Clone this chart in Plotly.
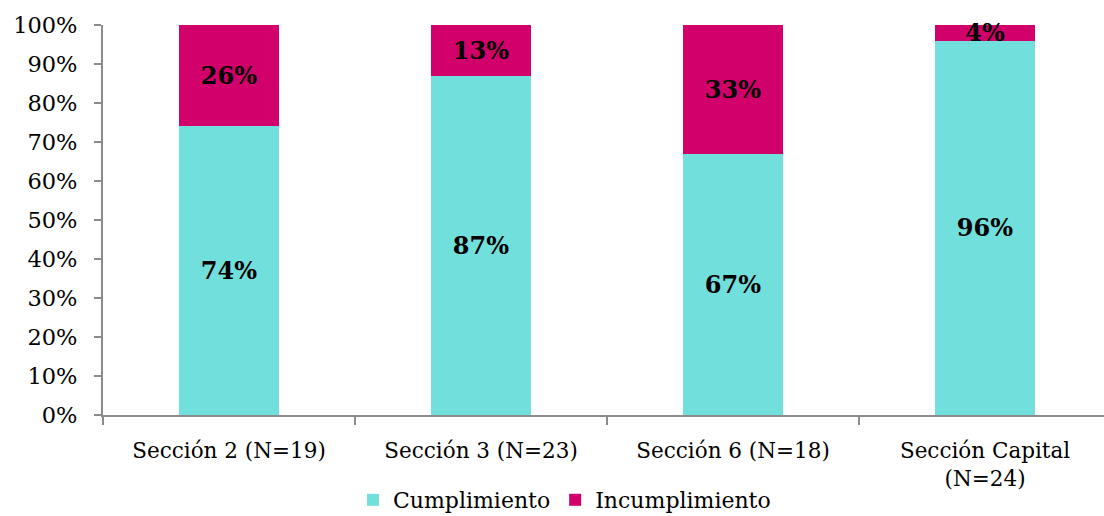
import plotly.graph_objects as go

categories = ["Sección 2 (N=19)", "Sección 3 (N=23)", "Sección 6 (N=18)", "Sección Capital<br>(N=24)"]
cumplimiento = [74, 87, 67, 96]
incumplimiento = [26, 13, 33, 4]
y_ticks = [0, 10, 20, 30, 40, 50, 60, 70, 80, 90, 100]
y_tick_labels = [f"{v}%" for v in y_ticks]

FONT = "DejaVu Serif"

fig = go.Figure()
fig.add_trace(go.Bar(
    name="Cumplimiento", x=categories, y=cumplimiento,
    marker=dict(color="#71DFDC", line=dict(width=0)),
    text=[f"<b>{v}%</b>" for v in cumplimiento], textposition="inside",
    insidetextanchor="middle", textfont=dict(family=FONT, size=24, color="black"),
    width=0.397,
))
fig.add_trace(go.Bar(
    name="Incumplimiento", x=categories, y=incumplimiento,
    marker=dict(color="#D1006A", line=dict(width=0)),
    text=[f"<b>{v}%</b>" for v in incumplimiento], textposition="inside",
    insidetextanchor="middle", textfont=dict(family=FONT, size=24, color="black"),
    constraintext="none", cliponaxis=False,
    width=0.397,
))
fig.update_layout(
    barmode="stack",
    width=1104, height=516,
    margin=dict(l=103, r=0, t=25, b=101, autoexpand=False),
    paper_bgcolor="white", plot_bgcolor="white",
    font=dict(family=FONT, size=21, color="black"),
    showlegend=True,
    legend=dict(orientation="h", x=0.461, xanchor="center",
                yref="container", y=0.031, yanchor="middle",
                font=dict(family=FONT, size=22), itemwidth=30, traceorder="normal"),
    uniformtext=dict(minsize=10, mode=False),
)
fig.update_xaxes(
    range=[-0.5, 3.472], showline=True, linecolor="#8c8c8c", linewidth=2,
    ticks="outside", tickson="boundaries", ticklen=8, tickcolor="#8c8c8c", tickwidth=2,
    showgrid=False, tickfont=dict(family=FONT, size=21.5), automargin=False,
    ticklabelstandoff=15,
)
fig.update_yaxes(
    range=[0, 100], tickvals=y_ticks, ticktext=y_tick_labels,
    showline=True, linecolor="#8c8c8c", linewidth=2,
    ticks="outside", ticklen=7, tickcolor="#8c8c8c", tickwidth=2,
    showgrid=False, zeroline=False, tickfont=dict(family=FONT, size=22.5),
    automargin=False, ticklabelstandoff=12,
)
fig.write_html("out.html")
